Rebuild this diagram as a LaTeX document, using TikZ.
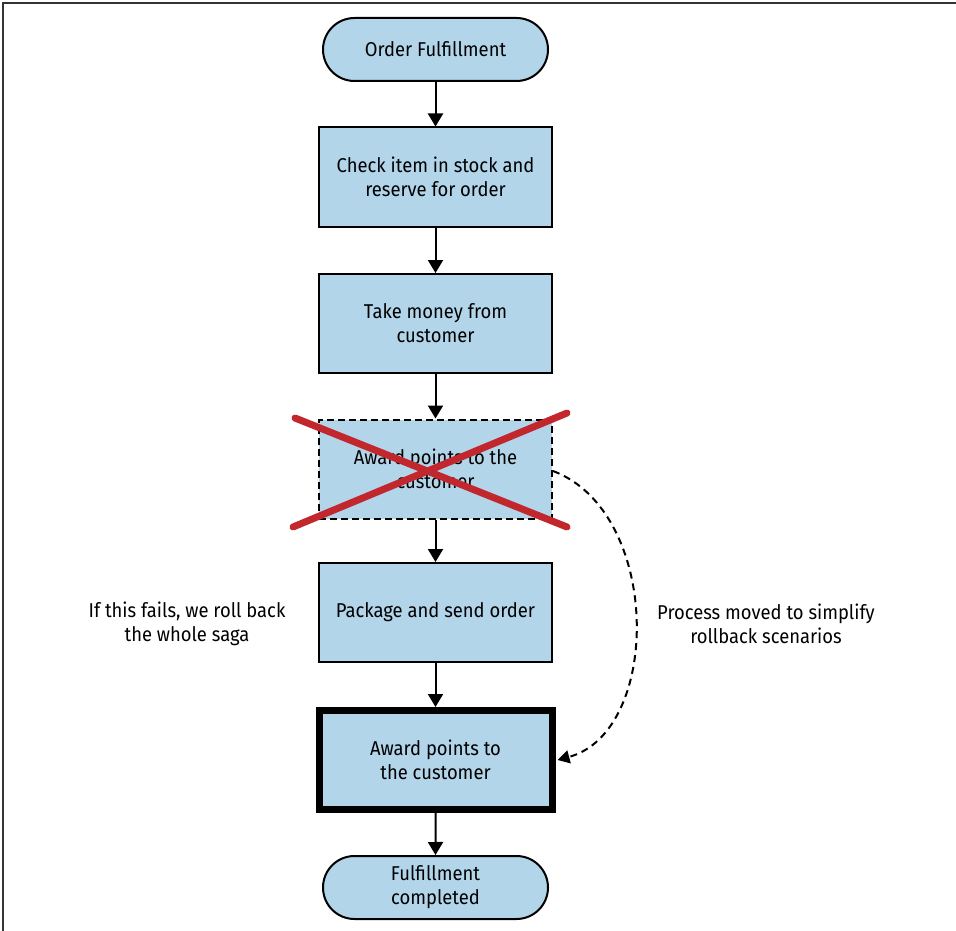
\documentclass[tikz,border=0pt]{standalone}
\usepackage{fontspec}
\setmainfont[FakeStretch=0.92]{Fira Sans}
\usetikzlibrary{shapes.misc,arrows.meta}
\definecolor{boxblue}{HTML}{B2D5EA}
\definecolor{xred}{HTML}{C1272D}
\begin{document}
\begin{tikzpicture}[x=1pt,y=-1pt,
  every node/.style={font=\fontsize{20}{24}\selectfont, align=center, inner sep=0pt},
  procbox/.style={draw=black, line width=2pt, fill=boxblue, minimum width=233pt, minimum height=99pt},
  termbox/.style={draw=black, line width=2pt, fill=boxblue, rounded rectangle, minimum width=225pt, minimum height=63pt},
  flow/.style={line width=2pt, -{Triangle[width=15pt,length=13pt]}},
  note/.style={text=black}
]
\useasboundingbox (0,0) rectangle (956,931);
\draw[line width=1.5pt, black!80] (3,931) -- (3,3) -- (956,3);

\node[termbox] (start) at (435.5,49.5) {Order Fulfillment};
\node[procbox] (check) at (435.5,177) {Check item in stock and\\reserve for order};
\node[procbox] (money) at (435.5,323.5) {Take money from\\customer};
\node[procbox, dashed, dash pattern=on 7pt off 4pt] (oldaward) at (435.5,469) {Award points to the\\customer};
\node[procbox] (pack) at (435.5,612.5) {Package and send order};
\node[procbox, line width=7pt] (award) at (435.5,760) {Award points to\\the customer};
\node[termbox] (done) at (435.5,887.5) {Fulfillment\\completed};

\draw[flow] (start) -- (check);
\draw[flow] (check) -- (money);
\draw[flow] (money) -- (oldaward);
\draw[flow] (oldaward) -- (pack);
\draw[flow] (pack) -- (award);
\draw[flow] (award) -- (done);

\draw[xred, line width=7pt, line cap=round] (295,418) -- (567,527);
\draw[xred, line width=7pt, line cap=round] (567,413) -- (293,527);

\coordinate (cstart) at ([yshift=-2pt]oldaward.east);
\coordinate (cend) at ([xshift=2pt]award.east);
\draw[line width=2pt, dashed, dash pattern=on 7pt off 5pt, -{Triangle[width=13pt,length=12pt]}]
  (cstart) .. controls (662,512) and (662,732) .. (cend);

\node[note] (lnote) at (187,624) {If this fails, we roll back\\the whole saga};
\node[note] (rnote) at (766,624) {Process moved to simplify\\rollback scenarios};
\end{tikzpicture}
\end{document}
